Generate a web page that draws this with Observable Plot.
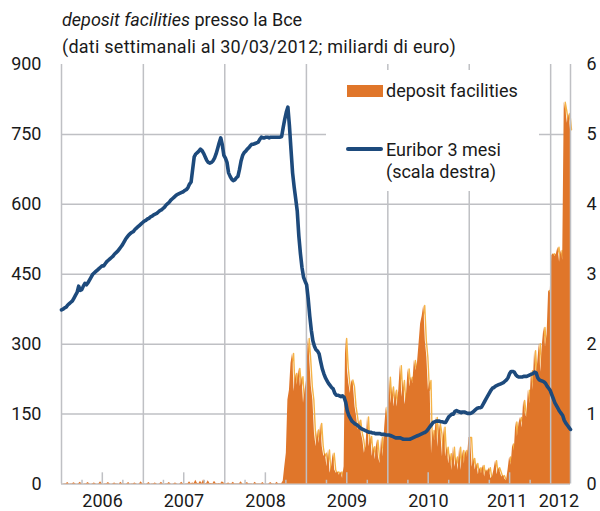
<!DOCTYPE html>
<html>
<head>
<meta charset="utf-8">
<script src="https://cdn.jsdelivr.net/npm/d3@7"></script>
<script src="https://cdn.jsdelivr.net/npm/@observablehq/plot@0.6"></script>
<style>
  body { margin: 0; background: #fff; font-family: Roboto, "Noto Sans", sans-serif; color: #1a1a1a; }
  #wrap { position: relative; width: 600px; height: 511px; overflow: hidden; }
  #head { position: relative; height: 58px; }
  .tline { position: absolute; left: 62px; font-size: 18px; line-height: 22px; white-space: nowrap; }
  #legend { position: absolute; left: 326px; top: 70px; width: 213px; height: 121px; background: #fff; }
  .sw { position: absolute; }
  .lt { position: absolute; left: 60px; font-size: 18px; line-height: 22px; white-space: nowrap; }
  svg { display: block; }
</style>
</head>
<body>
<div id="wrap">
  <div id="head">
    <div class="tline" style="top:9px"><i>deposit facilities</i> presso la Bce</div>
    <div class="tline" style="top:36px;letter-spacing:0.25px">(dati settimanali al 30/03/2012; miliardi di euro)</div>
  </div>
  <div id="chart"></div>
  <div id="legend">
    <div class="sw" style="left:21px;top:15px;width:36px;height:12px;background:#e0762a"></div>
    <div class="lt" style="top:10px">deposit facilities</div>
    <div class="sw" style="left:20px;top:77px;width:37px;height:3.6px;border-radius:2px;background:#1d4a7c"></div>
    <div class="lt" style="top:69px">Euribor 3 mesi</div>
    <div class="lt" style="top:91px">(scala destra)</div>
  </div>
</div>
<script>
// ---- weekly data (Fridays), one array per calendar block ----
const blocks = [
  ["2005-12-30", "2007-01-01"],
  ["2007-01-01", "2008-01-01"],
  ["2008-01-01", "2009-01-01"],
  ["2009-01-01", "2010-01-01"],
  ["2010-01-01", "2011-01-01"],
  ["2011-01-01", "2012-01-01"],
  ["2012-01-01", "2012-03-31"]
];

// Euribor 3 mesi (%), right scale
const euribor2006 = [2.49,
  2.50,2.52,2.53,2.56, 2.58,2.60,2.62,2.66, 2.70,2.74,2.83,2.77,2.78,
  2.83,2.87,2.85,2.88, 2.92,2.96,3.00,3.02, 3.04,3.06,3.08,3.10,3.12,
  3.12,3.15,3.18,3.20, 3.22,3.24,3.26,3.29, 3.31,3.33,3.36,3.39,3.42,
  3.46,3.50,3.53,3.56, 3.58,3.60,3.61,3.64, 3.66,3.68,3.70,3.72,3.74];
const euribor2007 = [
  3.76,3.77,3.79,3.80, 3.82,3.83,3.85,3.86, 3.87,3.89,3.91,3.92,3.94,
  3.96,3.99,4.01,4.03, 4.06,4.08,4.10,4.12, 4.14,4.15,4.16,4.17,4.18,
  4.20,4.21,4.24,4.29, 4.32,4.50,4.68,4.72,4.74, 4.76,4.79,4.77,4.73,
  4.68,4.63,4.60,4.59, 4.60,4.62,4.66,4.72,4.80, 4.88,4.95,4.85,4.70];
const euribor2008 = [
  4.66,4.60,4.45,4.40, 4.36,4.34,4.35,4.38,4.40, 4.50,4.62,4.70,4.74,
  4.76,4.79,4.81,4.84, 4.86,4.86,4.87,4.88,4.89, 4.93,4.96,4.95,4.95,
  4.96,4.96,4.95,4.96, 4.96,4.96,4.96,4.96,4.96, 4.96,4.97,5.10,5.22,
  5.32,5.39,5.12,4.78,4.45, 4.25,4.08,3.90,3.55, 3.30,3.10,2.96,2.90];
const euribor2009 = [
  2.85,2.65,2.40,2.20,2.05, 1.97,1.92,1.90,1.86, 1.75,1.65,1.58,1.52,
  1.48,1.44,1.41,1.38, 1.36,1.30,1.27,1.27,1.26, 1.25,1.26,1.24,1.17,
  1.05,0.98,0.94,0.90,0.88, 0.86,0.85,0.83,0.81, 0.79,0.78,0.77,0.76,
  0.75,0.74,0.74,0.73,0.73, 0.72,0.72,0.72,0.72, 0.71,0.71,0.71,0.70];
const euribor2010 = [
  0.70,0.70,0.69,0.68,0.67, 0.66,0.66,0.66,0.66, 0.65,0.64,0.64,0.64,
  0.64,0.64,0.65,0.66,0.67, 0.68,0.69,0.70,0.71, 0.72,0.73,0.74,0.76,
  0.79,0.82,0.85,0.88,0.89, 0.90,0.90,0.90,0.89, 0.89,0.88,0.88,0.92,
  0.96,0.98,1.00,1.00,1.04, 1.05,1.04,1.03,1.02, 1.03,1.03,1.02,1.01,1.01];
const euribor2011 = [
  1.01,1.02,1.04,1.06, 1.08,1.09,1.09,1.10, 1.14,1.18,1.22,1.26,
  1.30,1.34,1.37,1.38,1.40, 1.41,1.42,1.43,1.44, 1.45,1.47,1.49,1.52,
  1.58,1.61,1.61,1.60,1.56, 1.54,1.53,1.53,1.53, 1.54,1.54,1.54,1.55,1.56,
  1.57,1.58,1.60,1.59, 1.52,1.49,1.48,1.47, 1.46,1.44,1.40,1.37,1.34];
const euribor2012 = [1.28,1.22,1.16,1.12, 1.08,1.04,1.01,0.98, 0.91,0.87,0.84,0.81,0.78];

// deposit facilities (miliardi di euro), left scale
const deposits2006 = [0.3,
  0.2,0.5,0.3,3, 0.2,0.3,0.4,2.5, 0.3,0.2,0.3,4,0.3,
  0.2,0.3,0.5,3, 0.3,0.2,0.4,2, 0.3,0.2,0.3,5,0.3,
  0.2,0.4,0.3,3, 0.3,0.2,0.3,2, 0.4,0.3,0.2,4,0.3,
  0.3,0.2,0.3,3, 0.2,0.3,0.4,2, 0.3,0.2,0.3,5,0.4];
const deposits2007 = [
  0.3,0.2,0.4,3, 0.2,0.3,0.3,2, 0.3,0.2,0.4,4,0.3,
  0.2,0.3,0.3,3, 0.3,0.2,0.5,2, 0.3,0.2,0.3,4,0.3,
  0.2,0.4,0.3,5, 0.6,2,1,8,1.5, 0.8,6,1,9,
  0.7,1.2,7,0.9, 1,0.8,6,1.2,0.7, 1,0.8,5,2];
const deposits2008 = [
  0.5,0.3,2,0.4, 0.3,4,0.5,0.3,0.6, 0.4,5,0.3,0.2,
  0.3,3,0.4,0.5, 0.3,0.2,4,0.3,0.4, 0.3,0.5,3,0.2,
  0.3,0.2,0.5,3, 0.4,0.3,0.2,4,0.5, 0.4,0.3,6,37,
  66,180,201,259,280, 198,237,212,248, 209,230,173,200];
const deposits2009 = [
  223,312,266,209,180, 110,80,116,87, 130,80,59,66,
  37,73,23,37, 66,30,23,26,19, 26,12,37,312,
  250,216,194,223,209, 166,144,116,137, 109,94,66,80,
  144,80,102,59,80, 52,94,58,44, 100,58,122,165];
const deposits2010 = [
  129,229,172,208,165, 201,165,200,254, 186,222,170,193,
  247,208,229,215,265, 243,260,301,344, 360,383,308,272,
  201,222,65,115,93, 143,79,129,108, 58,122,58,79,
  43,65,29,79,36, 58,29,79,29, 72,43,72,57,100];
const deposits2011 = [
  100,36,55,30, 44,20,35,22, 40,15,30,25,
  35,12,15,30,50, 20,35,25,15, 18,10,7,30,
  58,40,86,70,133, 101,130,143,120, 179,150,143,201,172,
  243,201,286,229, 260,301,240,300, 336,294,320,415,410];
const deposits2012 = [490,494,488,494, 508,476,501,480, 819,800,774,795,760];

const euriborBlocks = [euribor2006, euribor2007, euribor2008, euribor2009, euribor2010, euribor2011, euribor2012];
const depositBlocks = [deposits2006, deposits2007, deposits2008, deposits2009, deposits2010, deposits2011, deposits2012];

// axes / labels
const leftTicks = [0, 150, 300, 450, 600, 750, 900];
const rateToDeposit = 900 / 6;  // right scale 0–6 maps onto left 0–900
const yearStarts = ["2007-01-01","2008-01-01","2009-01-01","2010-01-01","2011-01-01","2012-01-01"].map(d => new Date(d));
const yearLabelDates = ["2006-07-02","2007-07-02","2008-07-02","2009-07-02","2010-07-02","2011-06-20","2012-02-07"].map(d => new Date(d));
const julyTicks = ["2006-07-01","2007-07-01","2008-07-01","2009-07-01","2010-07-01","2011-07-01"].map(d => new Date(d));
const quarterTicks = ["2006-04-01","2006-10-01","2007-04-01","2007-10-01","2008-04-01","2008-10-01",
  "2009-04-01","2009-10-01","2010-04-01","2010-10-01","2011-04-01","2011-10-01"].map(d => new Date(d));

const rows = [];
blocks.forEach(([a, b], i) => {
  const dates = d3.utcFriday.range(new Date(a), new Date(b));
  const n = Math.min(dates.length, euriborBlocks[i].length, depositBlocks[i].length);
  for (let k = 0; k < n; k++) rows.push({date: dates[k], rate: euriborBlocks[i][k], dep: depositBlocks[i][k]});
});

const x0 = new Date("2005-12-30"), x1 = new Date("2012-03-30");
const GRID = "#bfc0c4", ORANGE = "#e0762a", FRINGE = "#f5b347", NAVY = "#1d4a7c";
const fringeStart = new Date("2008-09-15");

const chart = Plot.plot({
  width: 600, height: 453,
  marginLeft: 61, marginRight: 30, marginTop: 6, marginBottom: 27.5,
  style: {fontFamily: "Roboto, 'Noto Sans', sans-serif", fontSize: "18px", color: "#1a1a1a", background: "white", overflow: "visible"},
  x: {type: "utc", domain: [x0, x1]},
  y: {domain: [0, 900]},
  marks: [
    Plot.ruleY(leftTicks.filter(v => v > 0 && v < 900), {stroke: GRID, strokeWidth: 1.5}),
    Plot.ruleY([0], {stroke: GRID, strokeWidth: 1.5}),
    Plot.lineY(rows.filter(d => d.date >= fringeStart), {x: "date", y: "dep", stroke: FRINGE, strokeWidth: 1.4, dx: 1}),
    Plot.areaY(rows, {x: "date", y: "dep", fill: ORANGE}),
    Plot.ruleX(yearStarts, {stroke: GRID, strokeWidth: 1.5}),
    Plot.ruleX([x0, x1], {stroke: GRID, strokeWidth: 1.5}),
    Plot.ruleX(julyTicks, {y1: 0, y2: 24, stroke: GRID, strokeWidth: 1.5}),
    Plot.ruleX(quarterTicks, {y1: 0, y2: 8, stroke: GRID, strokeWidth: 1.5}),
    Plot.lineY(rows, {x: "date", y: d => d.rate * rateToDeposit, stroke: NAVY, strokeWidth: 3.6, strokeLinejoin: "round", strokeLinecap: "round"}),
    Plot.axisY({anchor: "left", ticks: leftTicks, tickSize: 0, tickPadding: 20, label: null, tickFormat: d => String(d)}),
    Plot.axisY({anchor: "right", ticks: leftTicks, tickSize: 0, tickPadding: 16, label: null, tickFormat: d => String(d / rateToDeposit)}),
    Plot.axisX({ticks: yearLabelDates, tickSize: 0, tickPadding: 10, label: null, tickFormat: d => String(d.getUTCFullYear())})
  ]
});
document.getElementById("chart").appendChild(chart);
</script>
</body>
</html>
